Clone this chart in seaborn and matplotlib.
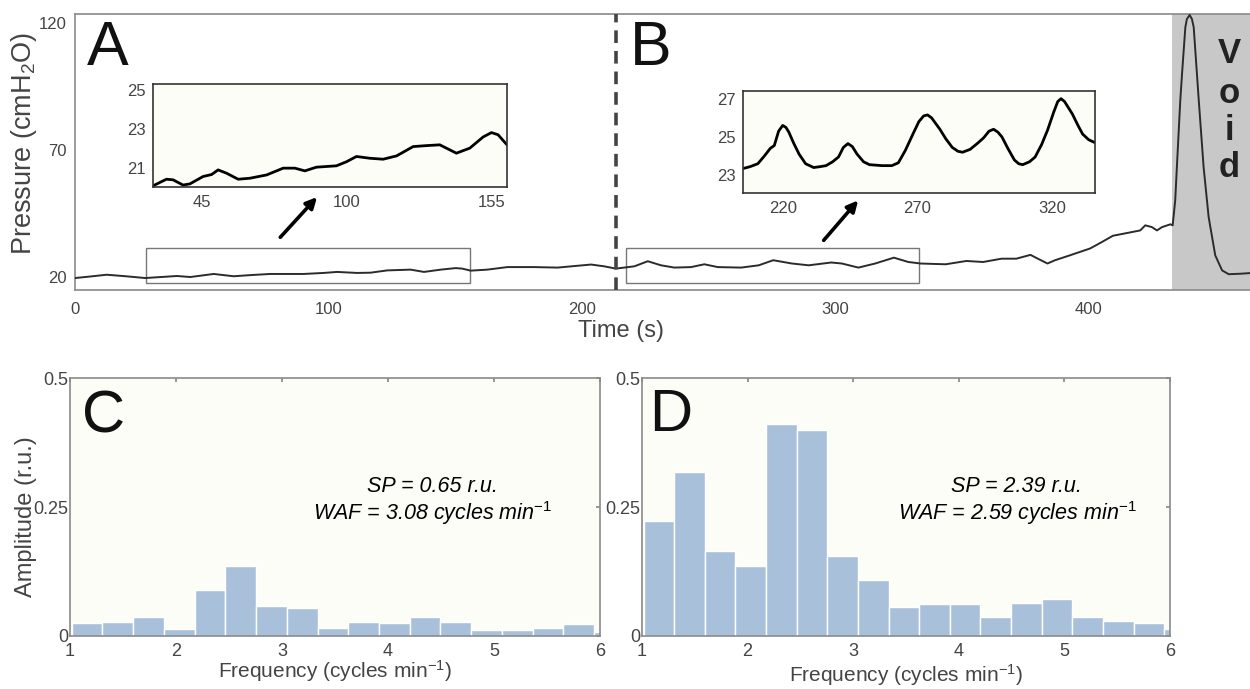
import matplotlib
matplotlib.use("Agg")
import matplotlib.pyplot as plt
import seaborn as sns
from matplotlib.patches import Rectangle

# ---------------- data ----------------
time_s = [0, 6, 12.5, 20, 27.7, 34, 40.2, 45.5, 54.7, 62.6, 70, 77.1, 90.2, 98.1,
          103.4, 111.3, 116.6, 123.2, 132.4, 137.7, 144.3, 150.2, 152.8, 156.1,
          162.7, 170.6, 181.1, 190.4, 203.6, 208.8, 213.4, 220.7, 226, 231.2,
          236.5, 243.1, 248.3, 253.6, 262.8, 269.8, 275.5, 282.9, 289.5, 298.4,
          302.6, 309.1, 315.7, 323.1, 328.8, 333.7, 343.5, 351.7, 358.3, 365.6,
          371.4, 377.0, 379.5, 383.7, 386.7, 392.5, 400.5, 405.1, 409.5, 415.7,
          420.3, 422.3, 424.9, 426.9, 428.9, 432.2, 433.1, 434.1, 435.0, 436.1,
          436.8, 438.1, 438.7, 439.8, 440.7, 441.4, 443.4, 445.3, 447.3, 449.9,
          452.6, 455.2, 460.0, 464.4]
pressure = [19.7, 20.3, 21.0, 20.4, 19.7, 20.1, 20.5, 20.1, 21.3, 20.4, 20.9, 21.3,
            21.3, 21.7, 22.1, 21.7, 21.8, 22.7, 23.0, 22.1, 23.0, 23.6, 23.4, 22.6,
            23.0, 24.0, 24.0, 23.8, 25.0, 24.3, 23.4, 24.3, 26.3, 24.7, 23.8, 24.0,
            25.1, 24.0, 23.8, 24.7, 26.7, 25.4, 24.7, 25.8, 25.4, 23.8, 25.4, 27.7,
            26.0, 25.4, 25.1, 26.4, 26.0, 27.3, 27.3, 28.8, 27.5, 25.4, 26.7, 28.6,
            31.3, 33.8, 36.3, 37.5, 38.4, 40.4, 39.7, 38.4, 39.7, 40.8, 40.4, 50.2,
            68.0, 89.4, 100.0, 118.2, 121.4, 123.0, 121.4, 118.2, 89.4, 63.3, 43.6,
            28.6, 22.7, 21.2, 21.4, 21.7]

insetA_time = [26.6, 31.7, 34.2, 38, 40.6, 45.6, 48.8, 51.3, 54.5, 58.9, 63.3, 69.7,
               76, 80.4, 84.2, 88.6, 96.2, 100, 103.8, 108.8, 113.9, 119, 125.3,
               130.4, 135.4, 141.7, 146.8, 151.8, 155, 157.5, 160.9]
insetA_pressure = [20.06, 20.4, 20.37, 20.1, 20.16, 20.54, 20.64, 20.88, 20.71, 20.4,
                   20.45, 20.62, 20.97, 20.97, 20.83, 21.02, 21.09, 21.3, 21.57,
                   21.48, 21.43, 21.6, 22.08, 22.13, 22.17, 21.74, 22.0, 22.57, 22.8,
                   22.69, 22.17]

insetB_time = [205.4, 208.0, 210.8, 213.2, 215.4, 216.9, 218.5, 220.0, 221.2, 222.3,
               224.0, 226.1, 228.5, 231.5, 234.0, 236.1, 238.5, 240.7, 242.5, 244.2,
               245.8, 247.6, 250.0, 252.2, 256.8, 260.5, 262.9, 265.5, 268.3, 270.5,
               272.3, 273.7, 275.2, 278.3, 280.5, 282.9, 285.0, 286.7, 289.5, 292.1,
               294.5, 296.5, 298.2, 299.8, 301.3, 303.5, 305.9, 307.5, 309.0, 311.5,
               313.6, 316.0, 318.2, 320.5, 322.0, 323.2, 324.5, 327.4, 329.5, 331.2,
               333.5, 335.8]
insetB_pressure = [23.35, 23.45, 23.6, 24.0, 24.4, 24.55, 25.3, 25.6, 25.5, 25.25,
                   24.7, 24.1, 23.6, 23.4, 23.45, 23.5, 23.7, 23.95, 24.45, 24.65,
                   24.5, 24.1, 23.7, 23.55, 23.5, 23.5, 23.65, 24.3, 25.15, 25.8,
                   26.1, 26.15, 26.0, 25.4, 24.9, 24.45, 24.25, 24.2, 24.35, 24.65,
                   24.95, 25.3, 25.4, 25.25, 25.0, 24.4, 23.8, 23.6, 23.55, 23.7,
                   23.95, 24.6, 25.35, 26.3, 26.85, 27.0, 26.85, 26.2, 25.6, 25.15,
                   24.85, 24.7]

freq = [1.16, 1.45, 1.74, 2.03, 2.32, 2.61, 2.90, 3.19, 3.48, 3.77, 4.06, 4.35,
        4.64, 4.93, 5.22, 5.51, 5.80, 6.09]
amp_C = [0.025, 0.028, 0.037, 0.014, 0.090, 0.136, 0.058, 0.055, 0.015, 0.027,
         0.025, 0.036, 0.028, 0.012, 0.012, 0.015, 0.023, 0.007]
amp_D = [0.223, 0.317, 0.164, 0.136, 0.411, 0.399, 0.155, 0.109, 0.056, 0.062,
         0.062, 0.036, 0.063, 0.071, 0.036, 0.029, 0.025, 0.014]

void_start, void_end = 433.0, 464.4
divider_t = 213.4
boxA_t = (27.9, 155.7)
boxB_t = (217.3, 333.0)
box_p = (17.9, 31.4)

# ---------------- style ----------------
sns.set_theme(style="white")
FAM = ["Liberation Sans", "DejaVu Sans"]
plt.rcParams["font.family"] = FAM
plt.rcParams["mathtext.fontset"] = "custom"
plt.rcParams["mathtext.rm"] = "Liberation Sans"
plt.rcParams["mathtext.it"] = "Liberation Sans:italic"
plt.rcParams["lines.solid_joinstyle"] = "round"
plt.rcParams["lines.solid_capstyle"] = "round"
TXT = "#444444"
SPN = "#8a8a8a"
BAR = "#a9c0da"
FACE = "#fdfdf8"

fig = plt.figure(figsize=(12.5, 6.89), dpi=100)
W, H = 1250, 689


def ax_px(x0, x1, ytop, ybot, **kw):
    return fig.add_axes([x0 / W, 1 - ybot / H, (x1 - x0) / W, (ybot - ytop) / H], **kw)


def style_spines(ax, color=SPN, lw=1.2):
    for s in ax.spines.values():
        s.set_visible(True)
        s.set_color(color)
        s.set_linewidth(lw)


# ---------------- top panel ----------------
ax = ax_px(75, 1252, 14, 290)
ax.set_facecolor("white")
ax.axvspan(void_start, void_end, color="#c8c8c8", lw=0, zorder=0)
sns.lineplot(x=time_s, y=pressure, ax=ax, color="#2b2b2b", lw=1.4, zorder=3)
ax.axvline(divider_t, color="#444444", lw=2.6, ls=(0, (3.5, 2.2)), zorder=4)
for t0, t1 in (boxA_t, boxB_t):
    ax.add_patch(Rectangle((t0, box_p[0]), t1 - t0, box_p[1] - box_p[0], fill=False,
                           ec="#777777", lw=1.0, zorder=2))
arrow = dict(arrowstyle="-|>", color="black", lw=2.6, mutation_scale=16, shrinkA=0, shrinkB=0)
ax.annotate("", xy=(95.5, 51.5), xytext=(81, 35.7), arrowprops=arrow)
ax.annotate("", xy=(309, 50.2), xytext=(295.4, 34.5), arrowprops=arrow)
ax.set_xlim(0, 464.4)
ax.set_ylim(15, 123.4)
ax.set_xticks([0, 100, 200, 300, 400])
ax.set_yticks([20, 70, 120])
ax.tick_params(axis="both", direction="in", length=3, color=SPN, labelsize=12,
               labelcolor=TXT)
ax.tick_params(axis="x", pad=9)
ax.tick_params(axis="y", pad=6)
style_spines(ax)
ax.set_xlabel("Time (s)", fontsize=17, color=TXT)
ax.xaxis.set_label_coords(0.464, -0.108)
ax.set_ylabel("Pressure (cmH$_2$O)", fontsize=19.5, color=TXT)
ax.yaxis.set_label_coords(-0.031, 0.53)
for letter, yv in zip("Void", [107.8, 92.2, 77.6, 63.1]):
    ax.text(455.5, yv, letter, ha="center", va="center", fontsize=25,
            fontweight="bold", color="#222222", zorder=5)

# ---------------- insets ----------------
def inset(x0, x1, ytop, ybot, t, p, xlim, ylim, xt, yt):
    a = ax_px(x0, x1, ytop, ybot)
    a.set_facecolor(FACE)
    sns.lineplot(x=t, y=p, ax=a, color="black", lw=2.0)
    a.set_xlim(*xlim)
    a.set_ylim(*ylim)
    a.set_xticks(xt)
    a.set_yticks(yt)
    a.tick_params(axis="both", length=0, labelsize=12, labelcolor=TXT)
    a.tick_params(axis="x", pad=6)
    a.tick_params(axis="y", pad=5)
    a.set_xlabel("")
    a.set_ylabel("")
    style_spines(a, color="#333333", lw=1.2)
    return a

inset(153, 507, 84, 187, insetA_time, insetA_pressure, (26.6, 160.9), (20.0, 25.3),
      [45, 100, 155], [21, 23, 25])
inset(743, 1095, 91, 193, insetB_time, insetB_pressure, (205.3, 335.8), (22.07, 27.4),
      [220, 270, 320], [23, 25, 27])

# ---------------- bottom panels ----------------
def spectrum(x0, x1, amps, sp, waf, txt_x, lab_y):
    a = ax_px(x0, x1, 378, 636)
    a.set_facecolor(FACE)
    sns.barplot(x=freq, y=amps, ax=a, native_scale=True, width=1.0, color=BAR,
                saturation=1, edgecolor="white", linewidth=1.0, zorder=2)
    a.set_xlim(1, 6)
    a.set_ylim(0, 0.5)
    a.set_xticks([1, 2, 3, 4, 5, 6])
    a.set_xticklabels(["1", "2", "3", "4", "5", "6"])
    a.set_yticks([0, 0.25, 0.5])
    a.set_yticklabels(["0", "0.25", "0.5"])
    a.tick_params(axis="both", direction="in", length=3, color=SPN, labelsize=13,
                  labelcolor=TXT, top=True, right=True)
    a.tick_params(axis="x", pad=5)
    a.tick_params(axis="y", pad=1)
    style_spines(a)
    a.set_xlabel("Frequency (cycles min$^{-1}$)", fontsize=15, color=TXT)
    a.xaxis.set_label_coords(0.5, lab_y)
    a.set_ylabel("")
    a.text(txt_x, 0.289, f"SP = {sp} r.u.", ha="center", va="center", fontsize=15.5,
           style="italic", color="black")
    a.text(txt_x, 0.238, f"WAF = {waf} cycles min" + r"$^{\mathit{-1}}$", ha="center",
           va="center", fontsize=15.5, style="italic", color="black")
    return a

axC = spectrum(70, 600, amp_C, "0.65", "3.08", 4.42, -0.085)
axC.set_ylabel("Amplitude (r.u.)", fontsize=17, color=TXT)
axC.yaxis.set_label_coords(-0.063, 0.463)
axD = spectrum(642, 1170, amp_D, "2.39", "2.59", 4.55, -0.1)

# panel letters
for letter, x, base, size in [("A", 87, 65, 45), ("B", 630, 65, 45),
                              ("C", 82, 433, 43), ("D", 649, 431, 43)]:
    fig.text(x / W, 1 - base / H, letter, ha="left", va="baseline", fontsize=size,
             color="#111111")

fig.savefig("out.png", dpi=100)
